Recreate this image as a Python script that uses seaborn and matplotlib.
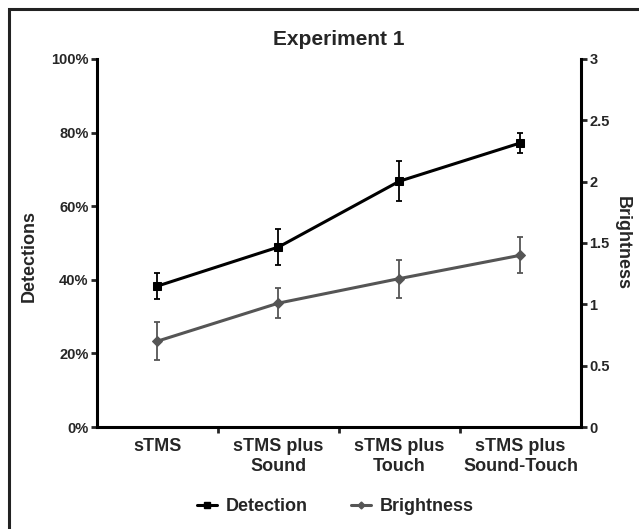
import matplotlib
matplotlib.use("Agg")
import matplotlib.pyplot as plt
import seaborn as sns
import pandas as pd
from matplotlib.lines import Line2D
from matplotlib.patches import Rectangle

conditions = ["sTMS", "sTMS plus\nSound", "sTMS plus\nTouch", "sTMS plus\nSound-Touch"]
detection = [38.3, 48.9, 66.8, 77.2]
detection_err = [3.5, 4.8, 5.5, 2.7]
brightness = [0.70, 1.01, 1.21, 1.40]
brightness_err = [0.155, 0.125, 0.155, 0.145]

sns.set_style("white")
plt.rcParams["font.family"] = ["Liberation Sans", "DejaVu Sans"]
plt.rcParams["font.weight"] = "bold"

fig = plt.figure(figsize=(6.39, 5.29), dpi=100)
ax = fig.add_axes([0.1518, 0.1928, 0.7574, 0.6957])
ax2 = ax.twinx()

xpos = [i + 0.5 for i in range(len(conditions))]
df = pd.DataFrame({"x": xpos, "det": detection, "bri": brightness})

det_color = "#000000"
bri_color = "#555555"

sns.lineplot(data=df, x="x", y="det", ax=ax, color=det_color, lw=2.2,
             marker="s", markersize=6, markeredgecolor=det_color)
ax.errorbar(xpos, detection, yerr=detection_err, fmt="none", ecolor=det_color,
            elinewidth=1.3, capsize=2.5, capthick=1.3)

sns.lineplot(data=df, x="x", y="bri", ax=ax2, color=bri_color, lw=2.2,
             marker="D", markersize=5, markeredgecolor=bri_color)
ax2.errorbar(xpos, brightness, yerr=brightness_err, fmt="none", ecolor=bri_color,
             elinewidth=1.3, capsize=2.5, capthick=1.3)

ax.set_xlim(0, 4)
ax.set_ylim(0, 100)
ax2.set_ylim(0, 3)

ax.set_yticks([0, 20, 40, 60, 80, 100])
ax.set_yticklabels([f"{v}%" for v in [0, 20, 40, 60, 80, 100]],
                   fontsize=10.5, fontweight="bold")
ax2.set_yticks([0, 0.5, 1, 1.5, 2, 2.5, 3])
ax2.set_yticklabels(["0", "0.5", "1", "1.5", "2", "2.5", "3"],
                    fontsize=10.5, fontweight="bold")

ax.set_xticks([1, 2, 3])
ax.set_xticklabels([])
ax.set_xticks(xpos, minor=True)
ax.set_xticklabels(conditions, minor=True, fontsize=13, fontweight="bold")
ax.tick_params(axis="x", which="minor", length=0, pad=8)
ax.tick_params(axis="x", which="major", length=4, width=2, direction="out")
ax.tick_params(axis="y", length=4, width=2, direction="out", pad=2)
ax2.tick_params(axis="y", length=4, width=2, direction="out", pad=2)
ax.tick_params(left=True, bottom=True)
ax2.tick_params(right=True)

for a in (ax, ax2):
    a.spines["top"].set_visible(False)
    for s in ("left", "right", "bottom"):
        a.spines[s].set_linewidth(2.2)
        a.spines[s].set_color("black")
ax.spines["right"].set_visible(False)
ax2.spines["left"].set_visible(False)
ax2.spines["bottom"].set_visible(False)

ax.set_xlabel("")
ax.set_ylabel("Detections", fontsize=13, fontweight="bold")
ax.yaxis.set_label_coords(-0.122, 0.465)
ax2.set_ylabel("Brightness", fontsize=13, fontweight="bold", rotation=270, va="center")
ax2.yaxis.set_label_coords(1.085, 0.5)
ax.set_title("Experiment 1", fontsize=15, fontweight="bold", pad=10)

handles = [
    Line2D([], [], color=det_color, lw=2.2, marker="s", markersize=4),
    Line2D([], [], color=bri_color, lw=2.2, marker="D", markersize=3.5),
]
fig.legend(handles, ["Detection", "Brightness"], loc="center",
           bbox_to_anchor=(0.525, 0.042), ncol=2, frameon=False,
           handlelength=1.1, handletextpad=0.5, columnspacing=2.4,
           prop={"size": 13, "weight": "bold"})

fig.patches.append(Rectangle((9 / 639, -0.05), 1.2, 1.05 - 9 / 529 + 0.0,
                             transform=fig.transFigure, fill=False,
                             edgecolor="#222222", lw=2.2))

fig.savefig("out.png", dpi=100)
